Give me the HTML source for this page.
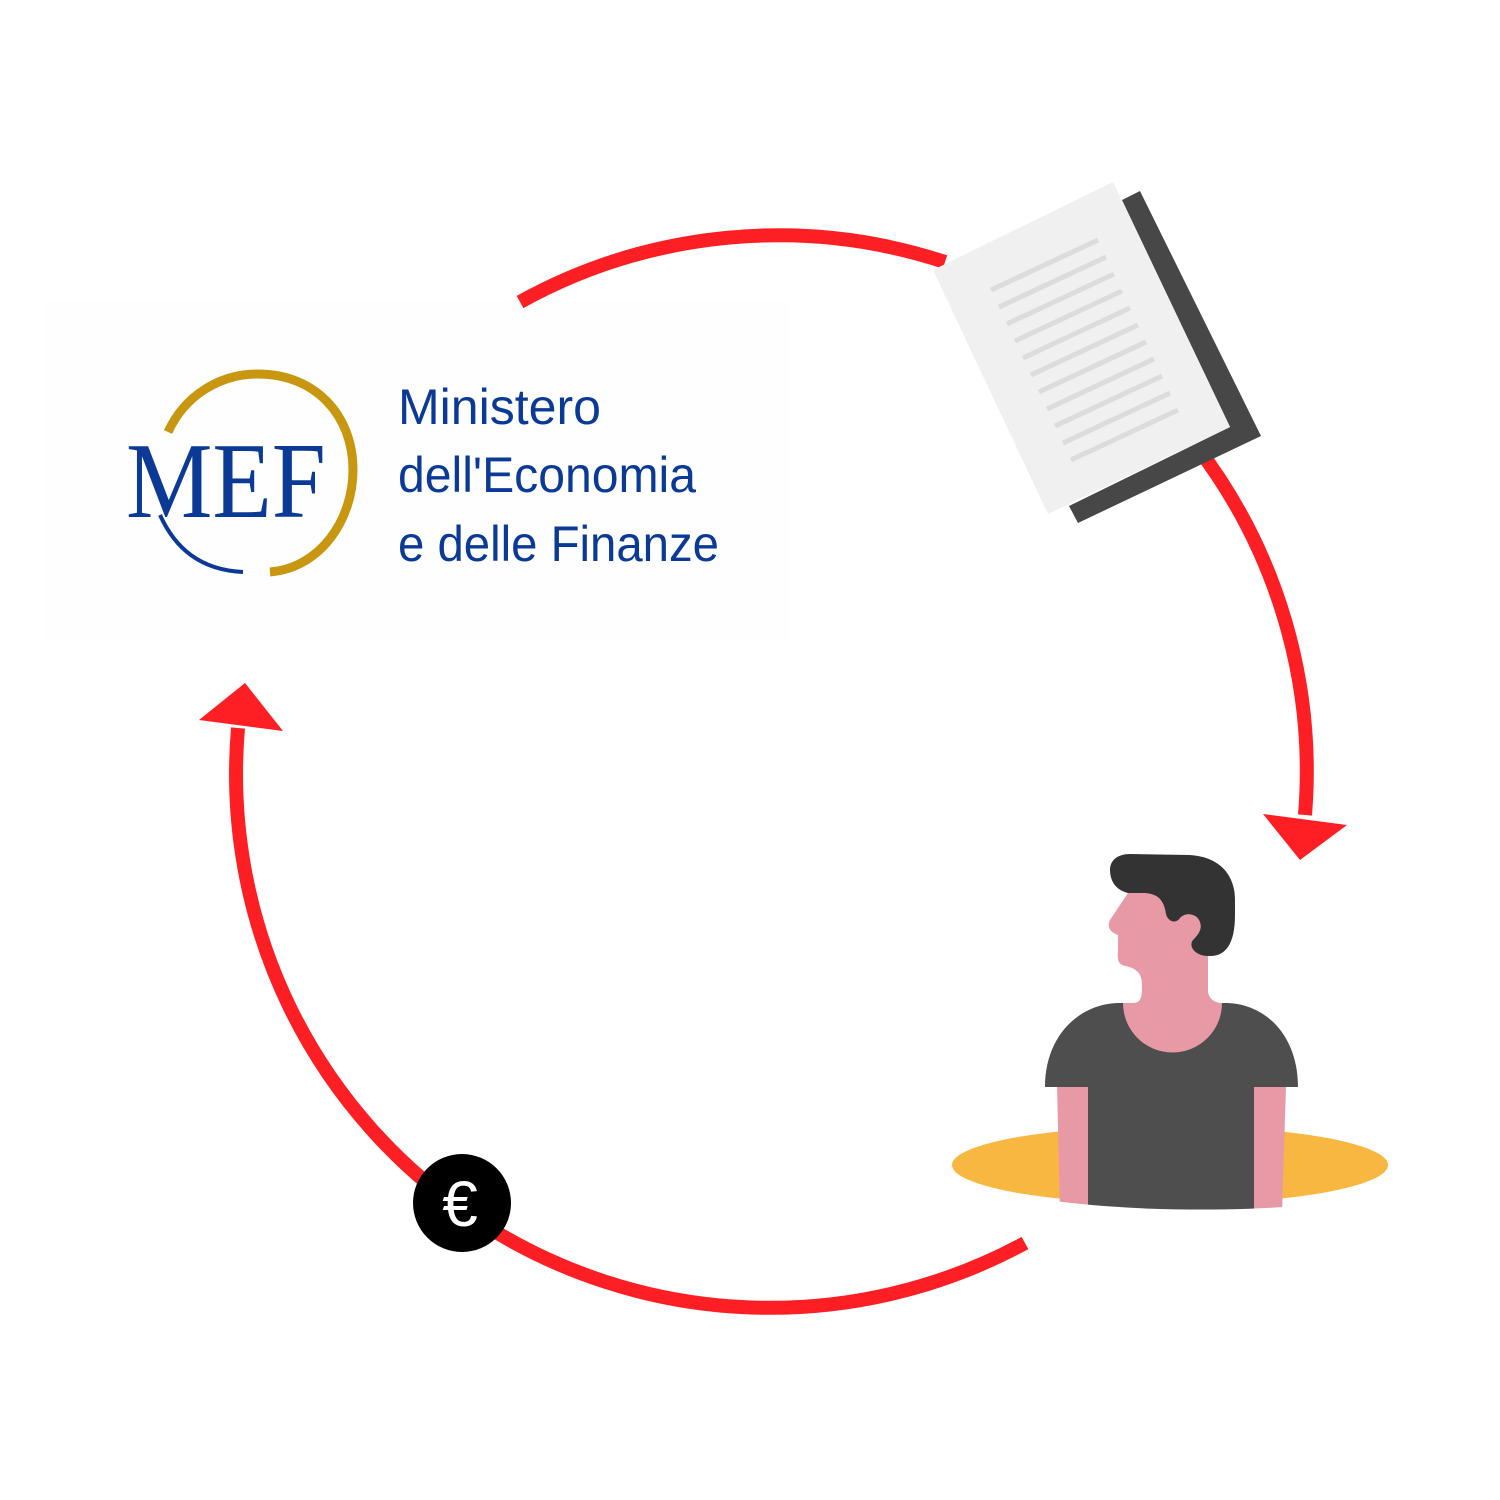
<!DOCTYPE html>
<html><head><meta charset="utf-8"><style>
html,body{margin:0;padding:0;background:#fff;}
svg{display:block}
</style></head><body>
<svg width="1500" height="1500" viewBox="0 0 1500 1500" xmlns="http://www.w3.org/2000/svg">
<rect x="45" y="300" width="745" height="340" fill="#fefefe"/>
<g fill="none" stroke="#fe1f25" stroke-width="14">
<path d="M520,302 A534,534 0 0 1 945,262"/>
<path d="M1197,447 A534,534 0 0 1 1305,815"/>
<path d="M1025,1243 A534,534 0 0 1 238,728"/>
</g>
<polygon points="1263,814 1347,825 1300,860" fill="#fe1f25"/>
<polygon points="199,720 245,683 283,731" fill="#fe1f25"/>
<circle cx="462" cy="1203" r="49" fill="#000"/>
<text x="460" y="1226" font-family="Liberation Sans, sans-serif" font-size="64" fill="#fff" text-anchor="middle">€</text>
<polygon points="1122,200 1140,191 1261,436 1078,523 1069,506 1230,427" fill="#474747"/>
<polygon points="933,270 1113,182 1230,427 1048,514" fill="#f0f0f0"/>
<g stroke="#dcdcdc" stroke-width="5">
<line x1="991" y1="290" x2="1098" y2="240"/>
<line x1="999" y1="307" x2="1106" y2="257"/>
<line x1="1007" y1="324" x2="1114" y2="274"/>
<line x1="1015" y1="341" x2="1122" y2="291"/>
<line x1="1023" y1="358" x2="1130" y2="308"/>
<line x1="1031" y1="375" x2="1138" y2="325"/>
<line x1="1039" y1="392" x2="1146" y2="342"/>
<line x1="1047" y1="409" x2="1154" y2="359"/>
<line x1="1055" y1="426" x2="1162" y2="376"/>
<line x1="1063" y1="443" x2="1170" y2="393"/>
<line x1="1071" y1="460" x2="1178" y2="410"/>
</g>
<ellipse cx="1170" cy="1165" rx="218" ry="39" fill="#f8b740"/>
<defs><clipPath id="cb"><path d="M900,800 H1450 V1165 A218,39 0 0 1 952,1165 H900 Z"/></clipPath></defs>
<g clip-path="url(#cb)">
<path d="M1057,1085 L1088,1085 L1088,1215 L1060,1215 Z" fill="#e79aa5"/>
<path d="M1254,1085 L1286,1085 L1282,1215 L1254,1215 Z" fill="#e79aa5"/>
<path d="M1045,1087 C1045,1035 1080,1003 1120,1003 L1225,1003 C1265,1003 1298,1035 1298,1087 L1254,1087 L1254,1215 L1088,1215 L1088,1087 Z" fill="#4e4e4e"/>
</g>
<path d="M1123,1003 L1133,1003 C1142,1003 1142,995 1142,985 C1142,972 1135,968 1125,966 C1118,964 1117,960 1118,950 L1118,935 C1112,933 1106,928 1110,920 L1128,893 L1208,893 L1208,990 C1208,998 1214,1003 1222,1003 A49,49 0 0 1 1123,1003 Z" fill="#e79aa5"/>
<path d="M1128,893 C1115,890 1110,880 1110,870 C1110,860 1118,854 1130,854 L1190,855 C1220,857 1235,875 1235,900 L1235,915 C1235,945 1225,957 1208,956 C1195,956 1188,946 1193,940 C1200,933 1202,928 1200,922 C1197,913 1185,912 1180,918 C1176,924 1168,922 1166,914 C1164,900 1158,894 1145,893 Z" fill="#333"/>
<path d="M168,432 C185,395 220,374 258,374 C315,374 353,415 353,470 C353,520 320,568 270,572" fill="none" stroke="#c9960f" stroke-width="9"/>
<path d="M160,515 C175,548 200,570 243,572" fill="none" stroke="#0a3a96" stroke-width="4"/>
<text x="0" y="0" transform="translate(126,517) scale(0.9,1)" font-family="Liberation Serif, serif" font-size="108" fill="#0a3a96">MEF</text>
<g font-family="Liberation Sans, sans-serif" font-size="50" fill="#0a3a96">
<text x="398" y="424" textLength="203" lengthAdjust="spacingAndGlyphs">Ministero</text>
<text x="398" y="492" textLength="298" lengthAdjust="spacingAndGlyphs">dell'Economia</text>
<text x="398" y="561" textLength="321" lengthAdjust="spacingAndGlyphs">e delle Finanze</text>
</g>
</svg>
</body></html>
